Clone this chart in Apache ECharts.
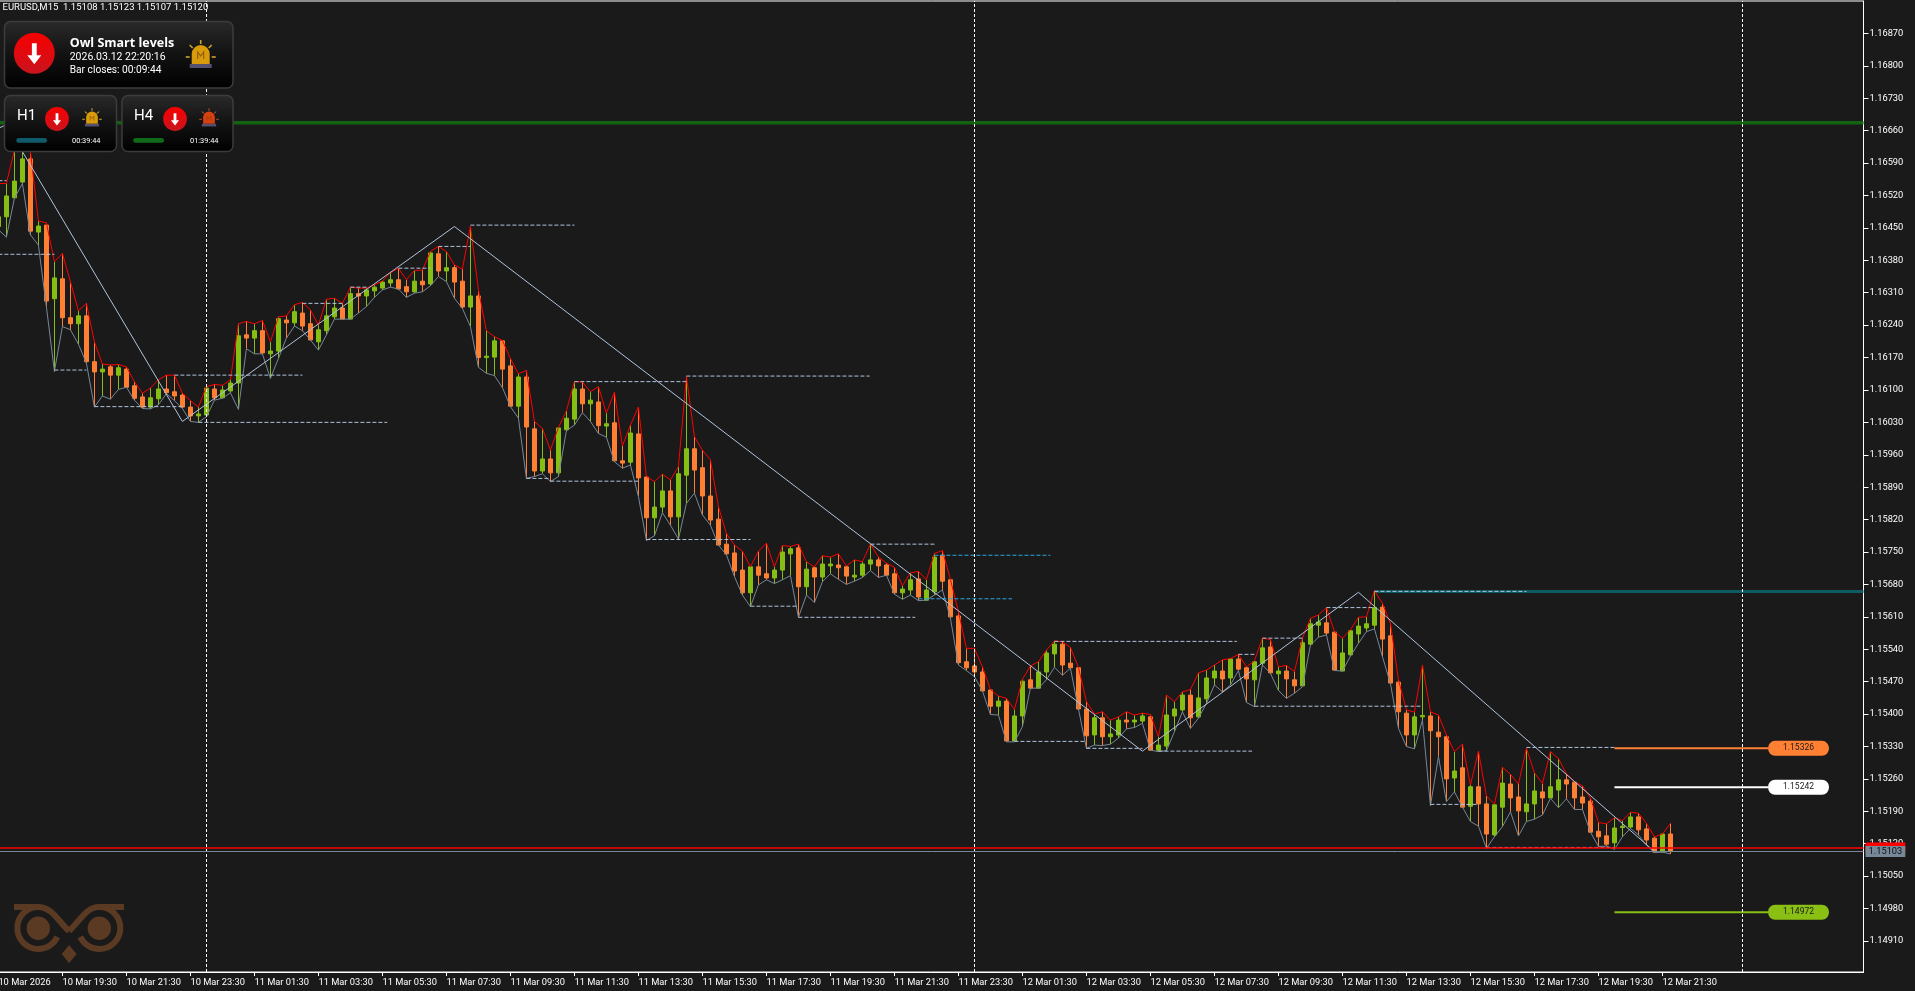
<!DOCTYPE html>
<html><head><meta charset="utf-8"><style>html,body{margin:0;padding:0;background:#1a1a1a}#c{width:1915px;height:991px}</style>
<script src="https://cdn.jsdelivr.net/npm/echarts@6/dist/echarts.min.js"></script></head><body><div id="c"></div>
<script>
const opens=[1.16453,1.16474,1.16515,1.16549,1.16599,1.16441,1.16456,1.16297,1.16340,1.16256,
1.16243,1.16260,1.16161,1.16139,1.16150,1.16132,1.16145,1.16109,1.16085,1.16063,
1.16081,1.16102,1.16096,1.16089,1.16063,1.16044,1.16046,1.16102,1.16083,1.16098,
1.16115,1.16219,1.16212,1.16228,1.16178,1.16184,1.16251,1.16245,1.16266,1.16243,
1.16204,1.16228,1.16258,1.16277,1.16253,1.16308,1.16303,1.16314,1.16320,1.16331,
1.16338,1.16323,1.16312,1.16335,1.16329,1.16394,1.16357,1.16364,1.16335,1.16279,
1.16303,1.16170,1.16171,1.16206,1.16152,1.16065,1.16128,1.16016,1.15925,1.15951,
1.15921,1.16014,1.16037,1.16102,1.16070,1.16074,1.16022,1.16029,1.15947,1.15944,
1.16005,1.15912,1.15824,1.15847,1.15882,1.15826,1.15916,1.15973,1.15932,1.15871,
1.15821,1.15767,1.15748,1.15711,1.15662,1.15718,1.15703,1.15694,1.15711,1.15746,
1.15759,1.15675,1.15716,1.15696,1.15720,1.15722,1.15718,1.15696,1.15700,1.15724,
1.15733,1.15722,1.15703,1.15662,1.15668,1.15692,1.15646,1.15664,1.15743,1.15690,
1.15612,1.15513,1.15504,1.15491,1.15452,1.15417,1.15428,1.15342,1.15396,1.15474,
1.15456,1.15491,1.15530,1.15551,1.15510,1.15500,1.15411,1.15355,1.15392,1.15351,
1.15355,1.15387,1.15383,1.15385,1.15394,1.15322,1.15331,1.15396,1.15409,1.15441,
1.15394,1.15433,1.15478,1.15493,1.15478,1.15519,1.15500,1.15474,1.15510,1.15545,
1.15487,1.15493,1.15474,1.15461,1.15551,1.15592,1.15597,1.15577,1.15493,1.15528,
1.15573,1.15586,1.15592,1.15631,1.15569,1.15469,1.15402,1.15355,1.15394,1.15396,
1.15361,1.15351,1.15262,1.15284,1.15201,1.15243,1.15206,1.15139,1.15199,1.15249,
1.15221,1.15189,1.15206,1.15232,1.15219,1.15236,1.15258,1.15253,1.15221,1.15212,
1.15147,1.15137,1.15122,1.15155,1.15156,1.15178,1.15152,1.15132,1.15102,1.15141];
const highs=[1.16546,1.16546,1.16618,1.16620,1.16615,1.16465,1.16461,1.16377,1.16395,1.16334,
1.16271,1.16287,1.16204,1.16156,1.16154,1.16155,1.16150,1.16118,1.16093,1.16104,
1.16122,1.16132,1.16132,1.16093,1.16077,1.16063,1.16107,1.16112,1.16110,1.16122,
1.16243,1.16248,1.16243,1.16250,1.16204,1.16258,1.16260,1.16284,1.16289,1.16273,
1.16240,1.16296,1.16298,1.16287,1.16322,1.16320,1.16320,1.16327,1.16335,1.16353,
1.16363,1.16338,1.16358,1.16359,1.16399,1.16410,1.16399,1.16370,1.16361,1.16454,
1.16316,1.16228,1.16215,1.16207,1.16168,1.16135,1.16142,1.16032,1.16017,1.15970,
1.16019,1.16055,1.16118,1.16117,1.16096,1.16107,1.16050,1.16095,1.15979,1.16024,
1.16063,1.15913,1.15902,1.15918,1.15906,1.15934,1.16129,1.15999,1.15970,1.15949,
1.15848,1.15790,1.15765,1.15752,1.15718,1.15752,1.15769,1.15718,1.15764,1.15762,
1.15767,1.15729,1.15718,1.15742,1.15739,1.15746,1.15720,1.15733,1.15729,1.15767,
1.15739,1.15726,1.15717,1.15677,1.15705,1.15708,1.15690,1.15747,1.15753,1.15691,
1.15621,1.15542,1.15542,1.15502,1.15453,1.15439,1.15434,1.15410,1.15475,1.15504,
1.15513,1.15538,1.15558,1.15556,1.15544,1.15501,1.15427,1.15400,1.15405,1.15387,
1.15394,1.15405,1.15398,1.15402,1.15399,1.15351,1.15441,1.15427,1.15448,1.15453,
1.15489,1.15495,1.15506,1.15517,1.15520,1.15529,1.15502,1.15515,1.15564,1.15561,
1.15502,1.15505,1.15492,1.15564,1.15607,1.15614,1.15630,1.15578,1.15564,1.15582,
1.15609,1.15610,1.15667,1.15639,1.15596,1.15474,1.15409,1.15404,1.15506,1.15405,
1.15398,1.15355,1.15319,1.15335,1.15247,1.15320,1.15223,1.15206,1.15285,1.15270,
1.15249,1.15326,1.15273,1.15250,1.15319,1.15304,1.15271,1.15254,1.15245,1.15219,
1.15166,1.15163,1.15176,1.15170,1.15188,1.15186,1.15164,1.15135,1.15141,1.15164];
const lows=[1.16446,1.16430,1.16514,1.16546,1.16435,1.16413,1.16280,1.16140,1.16237,1.16230,
1.16199,1.16158,1.16063,1.16087,1.16080,1.16101,1.16106,1.16078,1.16060,1.16059,
1.16068,1.16092,1.16077,1.16060,1.16032,1.16030,1.16042,1.16078,1.16082,1.16094,
1.16058,1.16189,1.16178,1.16178,1.16125,1.16168,1.16212,1.16238,1.16228,1.16208,
1.16186,1.16219,1.16253,1.16253,1.16253,1.16266,1.16280,1.16300,1.16316,1.16322,
1.16318,1.16300,1.16309,1.16312,1.16325,1.16345,1.16334,1.16298,1.16276,1.16237,
1.16149,1.16136,1.16131,1.16105,1.16064,1.16039,1.15909,1.15913,1.15919,1.15902,
1.15913,1.16012,1.16024,1.16051,1.16032,1.16006,1.15998,1.15945,1.15931,1.15938,
1.15870,1.15775,1.15785,1.15835,1.15808,1.15778,1.15855,1.15877,1.15830,1.15808,
1.15765,1.15744,1.15697,1.15657,1.15632,1.15679,1.15690,1.15682,1.15690,1.15699,
1.15609,1.15657,1.15641,1.15686,1.15703,1.15691,1.15680,1.15687,1.15695,1.15710,
1.15695,1.15700,1.15659,1.15648,1.15657,1.15645,1.15646,1.15657,1.15668,1.15607,
1.15506,1.15494,1.15481,1.15450,1.15399,1.15398,1.15340,1.15340,1.15373,1.15456,
1.15456,1.15474,1.15501,1.15484,1.15499,1.15411,1.15326,1.15333,1.15332,1.15335,
1.15348,1.15368,1.15371,1.15380,1.15322,1.15319,1.15321,1.15362,1.15405,1.15369,
1.15391,1.15423,1.15463,1.15448,1.15463,1.15494,1.15425,1.15416,1.15506,1.15488,
1.15451,1.15434,1.15445,1.15459,1.15549,1.15566,1.15571,1.15494,1.15493,1.15525,
1.15553,1.15578,1.15584,1.15524,1.15466,1.15369,1.15330,1.15325,1.15387,1.15202,
1.15308,1.15211,1.15232,1.15199,1.15168,1.15158,1.15110,1.15135,1.15157,1.15189,
1.15137,1.15168,1.15173,1.15182,1.15218,1.15198,1.15217,1.15194,1.15194,1.15145,
1.15114,1.15115,1.15108,1.15135,1.15153,1.15139,1.15117,1.15101,1.15102,1.15098];
const closes=[1.16474,1.16519,1.16551,1.16599,1.16443,1.16454,1.16292,1.16342,1.16256,1.16243,
1.16260,1.16161,1.16139,1.16145,1.16132,1.16148,1.16106,1.16082,1.16063,1.16083,
1.16102,1.16094,1.16087,1.16063,1.16044,1.16048,1.16104,1.16083,1.16100,1.16115,
1.16217,1.16212,1.16228,1.16180,1.16184,1.16254,1.16245,1.16269,1.16238,1.16208,
1.16230,1.16260,1.16277,1.16253,1.16308,1.16303,1.16316,1.16322,1.16333,1.16338,
1.16318,1.16312,1.16335,1.16327,1.16396,1.16357,1.16364,1.16333,1.16279,1.16303,
1.16170,1.16173,1.16206,1.16145,1.16065,1.16128,1.16020,1.15925,1.15951,1.15921,
1.16018,1.16039,1.16102,1.16070,1.16078,1.16023,1.16027,1.15947,1.15942,1.16007,
1.15910,1.15824,1.15847,1.15882,1.15826,1.15919,1.15973,1.15927,1.15871,1.15819,
1.15765,1.15746,1.15709,1.15662,1.15718,1.15700,1.15694,1.15711,1.15750,1.15757,
1.15675,1.15713,1.15696,1.15724,1.15724,1.15716,1.15698,1.15700,1.15724,1.15733,
1.15720,1.15700,1.15662,1.15670,1.15690,1.15653,1.15668,1.15739,1.15687,1.15610,
1.15511,1.15500,1.15491,1.15450,1.15417,1.15428,1.15342,1.15396,1.15471,1.15456,
1.15491,1.15532,1.15551,1.15506,1.15500,1.15411,1.15353,1.15392,1.15351,1.15357,
1.15387,1.15383,1.15387,1.15396,1.15322,1.15333,1.15398,1.15411,1.15441,1.15392,
1.15435,1.15478,1.15493,1.15476,1.15519,1.15497,1.15476,1.15513,1.15543,1.15489,
1.15493,1.15476,1.15461,1.15554,1.15595,1.15599,1.15575,1.15495,1.15532,1.15580,
1.15590,1.15595,1.15630,1.15562,1.15467,1.15405,1.15355,1.15394,1.15397,1.15364,
1.15351,1.15260,1.15277,1.15199,1.15243,1.15206,1.15141,1.15204,1.15251,1.15219,
1.15191,1.15206,1.15234,1.15219,1.15243,1.15258,1.15249,1.15219,1.15208,1.15145,
1.15135,1.15119,1.15154,1.15158,1.15178,1.15150,1.15128,1.15102,1.15141,1.15103];

const yTickValues=[1.14910,1.14980,1.15050,1.15120,1.15190,1.15260,1.15330,1.15400,1.15470,1.15540,1.15610,1.15680,1.15750,1.15820,1.15890,1.15960,1.16030,1.16100,1.16170,1.16240,1.16310,1.16380,1.16450,1.16520,1.16590,1.16660,1.16730,1.16800,1.16870];
const xTickLabels=['10 Mar 2026','10 Mar 19:30','10 Mar 21:30','10 Mar 23:30','11 Mar 01:30','11 Mar 03:30','11 Mar 05:30','11 Mar 07:30','11 Mar 09:30','11 Mar 11:30','11 Mar 13:30','11 Mar 15:30','11 Mar 17:30','11 Mar 19:30','11 Mar 21:30','11 Mar 23:30','12 Mar 01:30','12 Mar 03:30','12 Mar 05:30','12 Mar 07:30','12 Mar 09:30','12 Mar 11:30','12 Mar 13:30','12 Mar 15:30','12 Mar 17:30','12 Mar 19:30','12 Mar 21:30'];
// bar numbers count from the bar of 10 Mar 17:45, one bar per 15 minutes
const xTickBars=[-1,7,15,23,31,39,47,55,63,71,79,87,95,103,111,119,127,135,143,151,159,167,175,183,191,199,207];
const zigzagBars=[-1,0,22,56,142,169,206];
const zigzagPrices=[1.16665,1.16673,1.16032,1.16453,1.15320,1.15663,1.15103];
const levelStartBars=[-1,-1,6,11,21,24,37,43,49,54,58,65,68,71,85,80,93,99,108,126,131,135,144,154,157,156,165,171,178,185,190];
const levelEndBars=[0,6,10,22,37,47.6,42,45,53,58,71,68,79,85,107.9,93,99,113.6,116,134.8,153.8,142,155.7,156,162,177,171,190,183.8,201,201];
const levelPrices=[1.16552,1.16393,1.16143,1.16064,1.16132,1.16030,1.16287,1.16322,1.16363,1.16410,1.16456,1.15909,1.15903,1.16118,1.16130,1.15777,1.15633,1.15609,1.15767,1.15341,1.15557,1.15326,1.15320,1.15529,1.15564,1.15417,1.15630,1.15665,1.15205,1.15112,1.15328];
const blueLevelStartBars=[116,114];
const blueLevelEndBars=[130.5,125.7];
const blueLevelPrices=[1.15743,1.15649];
const daySeparatorBars=[25,121,217];
const resistancePrice=1.16677, supportPrice=1.15665, supportStartBar=171;
const bidPrice=1.15103, askPrice=1.15111;
const tradeLevels=[{name:'sell',price:1.15326,color:'#ff8033',text:'#1a1a1a'},{name:'entry',price:1.15242,color:'#ffffff',text:'#1a1a1a'},{name:'target',price:1.14972,color:'#8abf14',text:'#1a1a1a'}];
const tradeStartBar=201, tradeEndBar=220.2;
const firstBar=-1, lastAxisBar=232.13;

const barNumbers=opens.map((_,i)=>firstBar+i);
const labelByBar=new Map(xTickBars.map((b,i)=>[b,xTickLabels[i]]));
const AXF='Roboto,sans-serif';

const seg=(a,b,p)=>a.flatMap((s,i)=>[[s,p[i]],[b[i],p[i]],[b[i],null]]);
function lineS(data,color,width,dash,z,extra){return Object.assign({type:'line',data,showSymbol:false,symbol:'none',silent:true,z:z||4,clip:true,connectNulls:false,lineStyle:{color,width,type:dash||'solid'}},extra||{});}

function alarm(x,y,s,col,tone){
 const ray={stroke:tone,lineWidth:1.6,fill:null};
 const L=(a,b,c,d)=>({type:'line',shape:{x1:a,y1:b,x2:c,y2:d},style:ray});
 return {type:'group',x,y,scaleX:s,scaleY:s,children:[
  L(0,-15,0,-11),L(-11,-10,-8,-7),L(11,-10,8,-7),L(-15,2,-11,2),L(11,2,15,2),
  {type:'rect',shape:{x:-9,y:-10,width:18,height:19,r:[9,9,0,0]},style:{fill:col}},
  {type:'polyline',shape:{points:[[-3,4],[-3,-3],[0,1],[3,-3],[3,4]]},style:{fill:null,stroke:'rgba(120,70,0,0.7)',lineWidth:1.2}},
  {type:'rect',shape:{x:-11,y:9,width:22,height:4},style:{fill:'#545070'}}]};
}
function arrow(x,y,s){
 return {type:'group',x,y,scaleX:s,scaleY:s,children:[
  {type:'circle',shape:{cx:0,cy:0,r:20.5},style:{fill:new echarts.graphic.LinearGradient(0,0,0,1,[{offset:0,color:'#f80000'},{offset:1,color:'#c8141e'}])}},
  {type:'polygon',shape:{points:[[-2.4,-10],[2.4,-10],[2.4,2],[7,2],[0,11],[-7,2],[-2.4,2]]},style:{fill:'#fff'}}]};
}
function panel(x,y,w,h){return {type:'rect',shape:{x,y,width:w,height:h,r:6},style:{stroke:'#3c3c3c',lineWidth:1.5,fill:new echarts.graphic.LinearGradient(0,0,0,1,[{offset:0,color:'#2b2a2a'},{offset:0.45,color:'#141414'},{offset:1,color:'#000'}])}};}
const txt=(x,y,t,size,weight,font)=>({type:'text',x,y,style:{text:t,fill:'#fff',font:(weight||'normal')+' '+size+'px '+(font||AXF),textVerticalAlign:'middle',textBaseline:'middle'}});
const onTop=o=>{o.z=100;if(o.children)o.children.forEach(onTop);return o;};
const brown='#5a3a22';
const owlStroke={fill:null,stroke:brown,lineWidth:6};

const chart=echarts.init(document.getElementById('c'),null,{renderer:'canvas'});
chart.setOption({
 animation:false,backgroundColor:'#1a1a1a',
 grid:{left:-1.6,right:51.5,top:1,bottom:19,outerBoundsMode:'none',show:true,borderColor:'#ffffff',borderWidth:1,backgroundColor:'#1a1a1a'},
 xAxis:{type:'value',min:firstBar,max:lastAxisBar,splitLine:{show:false},
  axisLine:{onZero:false,lineStyle:{color:'#fff',width:1}},
  axisTick:{show:true,length:4,customValues:xTickBars.slice(1),lineStyle:{color:'#fff'}},
  axisLabel:{customValues:xTickBars,color:'#fff',fontFamily:AXF,fontSize:9.3,align:'left',margin:6,showMinLabel:true,showMaxLabel:true,hideOverlap:false,formatter:v=>labelByBar.get(v)||''}},
 yAxis:{type:'value',position:'right',min:1.14843,max:1.16940,scale:true,splitLine:{show:false},
  axisLine:{show:true,onZero:false,lineStyle:{color:'#fff',width:1}},
  axisTick:{show:true,length:5,customValues:yTickValues,lineStyle:{color:'#fff'}},
  axisLabel:{customValues:yTickValues,color:'#fff',fontFamily:AXF,fontSize:9.3,margin:6,hideOverlap:false,formatter:v=>v.toFixed(5)}},
 series:[
  {type:'candlestick',data:barNumbers.map((t,i)=>[t,opens[i],closes[i],lows[i],highs[i]]),encode:{x:0,y:[1,2,3,4]},barWidth:5,z:3,silent:true,
   itemStyle:{color:'#86bf14',color0:'#ff8033',borderColor:'#86bf14',borderColor0:'#ff8033',borderWidth:1}},
  lineS(barNumbers.map((t,i)=>[t,lows[i]]),'#778899',1),
  lineS(barNumbers.map((t,i)=>[t,highs[i]]),'#ff0000',1),
  lineS([[supportStartBar,supportPrice],[lastAxisBar,supportPrice]],'#0f5b63',3,null,2),
  lineS([[firstBar,resistancePrice],[lastAxisBar,resistancePrice]],'#116211',3.5,null,2),
  lineS(seg(levelStartBars,levelEndBars,levelPrices),'#b0c4de',1,[4,2],5),
  lineS(seg(blueLevelStartBars,blueLevelEndBars,blueLevelPrices),'#29a9e0',1,[4,2],5),
  lineS(zigzagBars.map((b,i)=>[b,zigzagPrices[i]]),'#b0c4de',1,null,6),
  {type:'line',data:[],z:7,silent:true,markLine:{silent:true,symbol:'none',animation:false,z:7,
    data:daySeparatorBars.map(b=>({xAxis:b,label:{show:false},lineStyle:{color:'#fff',width:1,type:[3,2]}}))}},
  {type:'line',data:[],z:8,silent:true,markLine:{silent:true,symbol:'none',animation:false,precision:5,z:8,
    data:[{yAxis:askPrice,lineStyle:{color:'#ff0000',width:1.5,type:'solid'},label:{show:true,position:'end',distance:2,formatter:()=>askPrice.toFixed(5),color:'#ff0000',backgroundColor:'#ff0000',fontFamily:AXF,fontSize:9.3,padding:[1,3,0,3],lineHeight:10}}]}},
  {type:'line',data:[],z:9,silent:true,markLine:{silent:true,symbol:'none',animation:false,precision:5,z:9,
    data:[{yAxis:bidPrice,lineStyle:{color:'#778899',width:1,type:'solid'},label:{show:true,position:'end',distance:2,formatter:()=>bidPrice.toFixed(5),color:'#111',backgroundColor:'#778899',fontFamily:AXF,fontSize:9.3,padding:[1,3,0,3],lineHeight:10}}]}},
  ...tradeLevels.map(l=>lineS([[tradeStartBar,l.price],[tradeEndBar,l.price]],l.color,2,null,6,{
    endLabel:{show:true,distance:0,formatter:()=>l.price.toFixed(5),color:l.text,backgroundColor:l.color,borderRadius:7,padding:[3,15,3,15],lineHeight:9,align:'left',fontFamily:AXF,fontSize:8.5}}))
 ],
 graphic:{elements:[
  onTop({type:'group',children:[
   txt(2.5,7.5,'EURUSD,M15  1.15108 1.15123 1.15107 1.15120',9.5),
   panel(4.5,21.5,228.5,66.5),
   arrow(34.3,53.3,1),
   txt(69.7,43.3,'Owl Smart levels',12.5,'bold','"Open Sans",sans-serif'),
   txt(69.7,57,'2026.03.12 22:20:16',10.5),
   txt(69.7,70,'Bar closes: 00:09:44',10.2),
   alarm(200.7,55,1,'#d99b0c','#c9a42c'),
   panel(4.5,95.5,112,56),
   txt(17,116,'H1',15,'normal','Roboto,sans-serif'),
   arrow(57,119,0.58),
   alarm(92,118,0.65,'#d99b0c','#c9a42c'),
   {type:'rect',shape:{x:16.3,y:138,width:30.7,height:4.7,r:2.3},style:{fill:'#0f5b6b'}},
   txt(72,141.3,'00:39:44',7.4),
   panel(122,95.5,111,56),
   txt(134,116,'H4',15,'normal','Roboto,sans-serif'),
   arrow(175,119,0.58),
   alarm(209,118,0.65,'#d8400f','#b8502c'),
   {type:'rect',shape:{x:133.3,y:138,width:30.7,height:4.7,r:2.3},style:{fill:'#0f6b1a'}},
   txt(190,141.3,'01:39:44',7.4),
   {type:'line',shape:{x1:14,y1:907,x2:38,y2:907},style:owlStroke},
   {type:'line',shape:{x1:99,y1:907,x2:124,y2:907},style:owlStroke},
   {type:'bezierCurve',shape:{x1:38,y1:907,x2:69,y2:931,cpx1:52,cpy1:907,cpx2:58,cpy2:921},style:owlStroke},
   {type:'bezierCurve',shape:{x1:69,y1:931,x2:99,y2:907,cpx1:80,cpy1:921,cpx2:86,cpy2:907},style:owlStroke},
   {type:'arc',shape:{cx:38.3,cy:928,r:21,startAngle:-Math.PI/2,endAngle:25*Math.PI/180,clockwise:false},style:owlStroke},
   {type:'arc',shape:{cx:99.3,cy:928,r:21,startAngle:-Math.PI/2,endAngle:155*Math.PI/180,clockwise:true},style:owlStroke},
   {type:'circle',shape:{cx:38.3,cy:928.3,r:11.7},style:{fill:brown}},
   {type:'circle',shape:{cx:99.3,cy:928.3,r:11.7},style:{fill:brown}},
   {type:'polygon',shape:{points:[[69,945],[76.7,954],[69,963.3],[61.7,954]]},style:{fill:brown}}
  ]})
 ]}
});
</script></body></html>
